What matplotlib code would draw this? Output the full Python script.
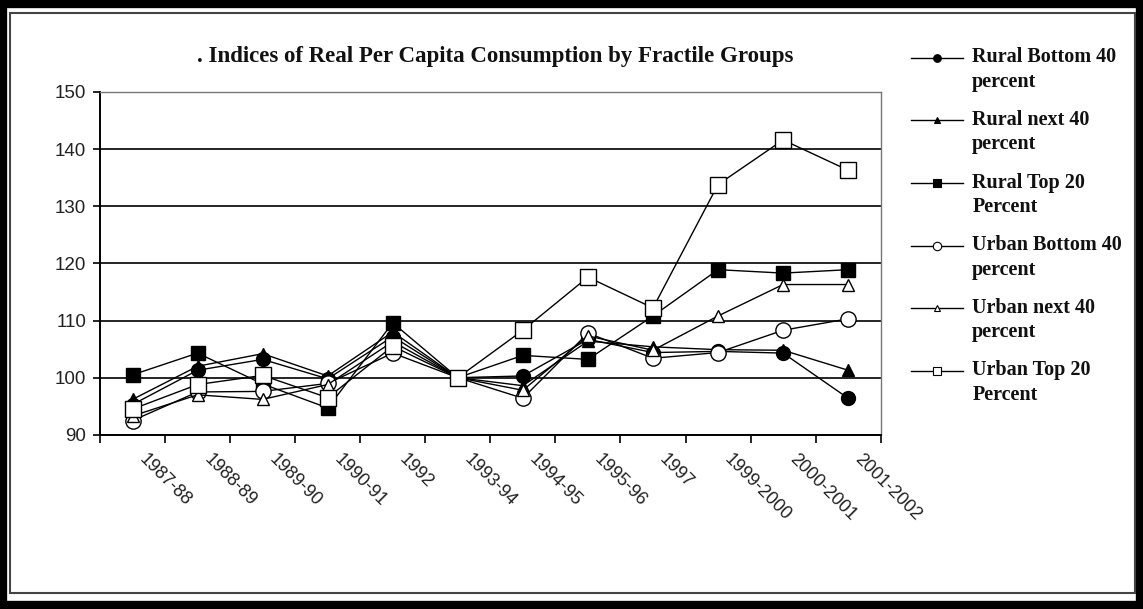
#!/usr/bin/python3

"""Indices of real per capita consumption by fractile groups."""

import matplotlib
matplotlib.use('Agg')
import matplotlib.pyplot as plt
from matplotlib.lines import Line2D
from matplotlib.patches import Rectangle
from matplotlib.legend_handler import HandlerLine2D

YEARS = ['1987-88', '1988-89', '1989-90', '1990-91', '1992', '1993-94',
         '1994-95', '1995-96', '1997', '1999-2000', '2000-2001', '2001-2002']

RURAL_BOTTOM_40 = [95.3, 101.3, 103.2, 99.8, 107.2, 100, 100.3, 106.7, 104.4, 104.6, 104.3, 96.4]
RURAL_NEXT_40 = [96.2, 102.0, 104.2, 100.3, 108.0, 100, 98.6, 106.4, 105.4, 104.9, 104.8, 101.3]
RURAL_TOP_20 = [100.5, 104.3, 98.9, 94.7, 109.6, 100, 103.9, 103.2, 110.8, 118.9, 118.3, 118.9]
URBAN_BOTTOM_40 = [92.5, 97.5, 97.6, 99.0, 104.3, 100, 96.4, 107.8, 103.4, 104.4, 108.3, 110.3]
URBAN_NEXT_40 = [93.3, 97.0, 96.2, 98.8, 106.3, 100, 97.8, 107.3, 104.8, 110.8, 116.3, 116.3]
URBAN_TOP_20 = [94.5, 98.8, 100.4, 96.5, 105.5, 100, 108.3, 117.6, 112.2, 133.8, 141.6, 136.3]

SERIES = [
    ('Rural Bottom 40\npercent', RURAL_BOTTOM_40, 'o', 'black', 10),
    ('Rural next 40\npercent', RURAL_NEXT_40, '^', 'black', 9),
    ('Rural Top 20\nPercent', RURAL_TOP_20, 's', 'black', 10),
    ('Urban Bottom 40\npercent', URBAN_BOTTOM_40, 'o', 'white', 11),
    ('Urban next 40\npercent', URBAN_NEXT_40, '^', 'white', 9),
    ('Urban Top 20\nPercent', URBAN_TOP_20, 's', 'white', 11),
]

SERIF = ['Liberation Serif', 'DejaVu Serif']
SANS = ['Liberation Sans', 'DejaVu Sans']

# lift legend handles to the first line of each two-line label (points)
LIFT = 8.8


class FirstLineHandler(HandlerLine2D):
    def create_artists(self, legend, orig_handle, xdescent, ydescent,
                       width, height, fontsize, trans):
        return super().create_artists(legend, orig_handle, xdescent,
                                      ydescent - 2 * LIFT, width, height,
                                      fontsize, trans)


def main():
    fig = plt.figure(figsize=(11.43, 6.09), dpi=100)
    ax = fig.add_axes([0.0875, 0.286, 0.683, 0.563])

    x = list(range(len(YEARS)))
    handles = []
    for label, values, marker, face, size in SERIES:
        ax.plot(x, values, color='black', linewidth=1.0, marker=marker,
                markersize=size, markerfacecolor=face,
                markeredgecolor='black', markeredgewidth=1.0)
        handles.append(Line2D([], [], color='black', linewidth=1.0,
                              marker=marker, markersize=size * 0.55,
                              markerfacecolor=face, markeredgecolor='black',
                              markeredgewidth=0.8, label=label))

    ax.set_xlim(-0.5, len(YEARS) - 0.5)
    ax.set_ylim(90, 150)
    ax.set_yticks(range(90, 151, 10))
    ax.yaxis.grid(True, color='black', linewidth=1.2)
    ax.set_axisbelow(True)

    # category boundaries carry the ticks, labels hang just right of centre
    ax.set_xticks([i - 0.5 for i in range(len(YEARS) + 1)])
    ax.set_xticklabels([])
    ax.set_xticks([i + 0.14 for i in x], minor=True)
    ax.set_xticklabels(YEARS, minor=True, rotation=-45, ha='left',
                       va='center', rotation_mode='anchor', family=SANS,
                       fontsize=13, color='#222222')
    ax.tick_params(axis='x', which='minor', length=0, pad=16)
    ax.tick_params(axis='x', which='major', length=6, width=1.2,
                   direction='out')
    ax.tick_params(axis='y', length=5, width=1.2, direction='out',
                   labelsize=13.5, labelcolor='#222222', pad=5)
    for lab in ax.get_yticklabels():
        lab.set_family(SANS)

    for side in ['left', 'bottom']:
        ax.spines[side].set_color('black')
        ax.spines[side].set_linewidth(1.4)
    for side in ['top', 'right']:
        ax.spines[side].set_color('#777777')
        ax.spines[side].set_linewidth(1.0)

    fig.text(0.433, 0.908, '. Indices of Real Per Capita Consumption by Fractile Groups',
             ha='center', va='center', family=SERIF, fontweight='bold',
             fontsize=16.5, color='#111111')

    leg = fig.legend(handles=handles, loc='upper left',
                     bbox_to_anchor=(0.781, 0.952), frameon=False,
                     prop={'family': SERIF, 'weight': 'bold', 'size': 14.5},
                     handlelength=2.6, handletextpad=0.45, labelspacing=0.9,
                     handler_map={Line2D: FirstLineHandler()})
    for t in leg.get_texts():
        t.set_linespacing(1.3)
        t.set_color('#111111')

    # page frame: thick black outer border and thin grey inner border
    fig.patches.append(Rectangle((0.003, 0.006), 0.994, 0.988,
                                 transform=fig.transFigure, fill=False,
                                 edgecolor='black', linewidth=6))
    fig.patches.append(Rectangle((0.009, 0.026), 0.984, 0.953,
                                 transform=fig.transFigure, fill=False,
                                 edgecolor='#444444', linewidth=1.5))

    fig.savefig('out.png', dpi=100, facecolor='white')


if __name__ == '__main__':
    main()
